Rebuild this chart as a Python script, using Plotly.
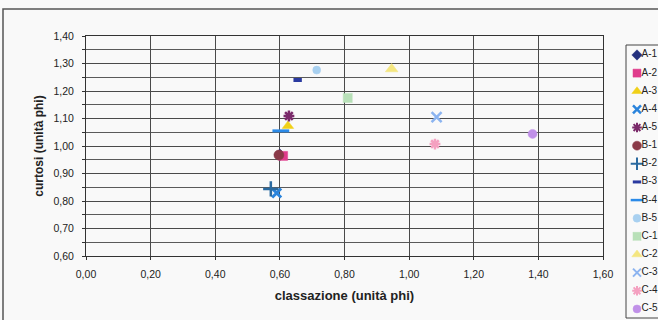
import plotly.graph_objects as go

names = ["A-1", "A-2", "A-3", "A-4", "A-5", "B-1", "B-2", "B-3", "B-4", "B-5",
         "C-1", "C-2", "C-3", "C-4", "C-5"]
x_vals = [0.60, 0.61, 0.625, 0.59, 0.628, 0.597, 0.572, 0.655, 0.603, 0.714,
          0.81, 0.946, 1.085, 1.08, 1.382]
y_vals = [0.968, 0.964, 1.073, 0.829, 1.109, 0.967, 0.844, 1.24, 1.055, 1.276,
          1.175, 1.28, 1.105, 1.007, 1.044]
x_ticks = [0.0, 0.2, 0.4, 0.6, 0.8, 1.0, 1.2, 1.4, 1.6]
y_ticks = [0.6, 0.7, 0.8, 0.9, 1.0, 1.1, 1.2, 1.3, 1.4]

symbols = ["diamond", "square", "triangle-up", "x-thin-open", "asterisk-open", "circle",
           "cross-thin-open", "line-ew-open", "line-ew-open", "circle-x",
           "square-x", "triangle-up", "x-thin-open", "asterisk-open", "circle"]
colors = ["#24307e", "#e03c8c", "#f0d018", "#2a84dc", "#7a2a6a", "#8a3a48",
          "#2a6aa0", "#2a3aa0", "#2a8ae8", "#a8d0f0", "#b8e0b8", "#f4e680",
          "#8cb4f0", "#f4a0c0", "#c090e8"]
sizes = [9, 9, 10, 9, 9, 10, 11, 6, 12, 8, 9, 11, 10, 9, 9]
lw = [0.5, 0.5, 0.5, 3, 2.5, 0.5, 2.5, 4, 3, 0.5, 0.5, 0.5, 2.5, 2.5, 0.5]
leg_sizes = [8, 8, 9, 8, 8, 9, 9, 6, 9, 8, 8, 9, 8, 8, 8]
leg_lw = [0.5, 0.5, 0.5, 2.5, 2, 0.5, 2, 3, 2.5, 0.5, 0.5, 0.5, 2, 2, 0.5]

W, H = 658, 320
fig = go.Figure()
for n, xv, yv, s, c, sz, w in zip(names, x_vals, y_vals, symbols, colors, sizes, lw):
    fig.add_trace(go.Scatter(
        x=[xv], y=[yv], mode="markers", name=n, showlegend=False,
        marker=dict(symbol=s, color=c, size=sz, opacity=1, line=dict(color=c, width=w)),
    ))

# custom legend (narrow, like the original)
idx = list(range(len(names)))
fig.add_trace(go.Scatter(
    x=[11] * len(names), y=idx, mode="markers", xaxis="x2", yaxis="y2",
    showlegend=False, hoverinfo="skip",
    marker=dict(symbol=symbols, color=colors, size=leg_sizes, opacity=1,
                line=dict(color=colors, width=leg_lw)),
))
fig.add_trace(go.Scatter(
    x=[15.5] * len(names), y=idx, mode="text", text=names, xaxis="x2", yaxis="y2",
    textposition="middle right", showlegend=False, hoverinfo="skip",
    textfont=dict(size=10, color="#222"),
))

px_top, px_bot, px_left, px_right = 36, 256, 86, 603
fig.update_layout(
    width=W, height=H,
    margin=dict(l=0, r=0, t=0, b=0, autoexpand=False),
    paper_bgcolor="#f9f9f9",
    plot_bgcolor="#f9f9f9",
    separators=",.",
    font=dict(family="Liberation Sans, Arial", size=10, color="#222"),
    showlegend=False,
    xaxis=dict(
        domain=[px_left / W, px_right / W],
        range=[0, 1.6], tickvals=x_ticks, tickformat=".2f",
        showgrid=True, gridcolor="#4a4a4a", gridwidth=1,
        showline=True, linecolor="#333", mirror=True,
        ticks="outside", ticklen=3, tickcolor="#333",
        zeroline=False, automargin=False, ticklabelstandoff=5,
        tickfont=dict(size=10.5),
        title=dict(text="<b>classazione (unità phi)</b>", font=dict(size=13), standoff=12),
    ),
    yaxis=dict(
        domain=[(H - px_bot) / H, (H - px_top) / H],
        range=[0.6, 1.4], tickvals=y_ticks, tickformat=".2f",
        showgrid=True, gridcolor="#4a4a4a", gridwidth=1,
        minor=dict(dtick=0.05, showgrid=True, gridcolor="#5a5a5a", gridwidth=1,
                   ticks="outside", ticklen=3, tickcolor="#333"),
        showline=True, linecolor="#333", mirror=True,
        ticks="outside", ticklen=3, tickcolor="#333",
        zeroline=False, automargin=False, ticklabelstandoff=6,
        tickfont=dict(size=10.5),
        title=dict(text="<b>curtosi (unità phi)</b>", font=dict(size=12), standoff=7),
    ),
    xaxis2=dict(domain=[626 / W, 1], range=[0, 32], visible=False, fixedrange=True),
    yaxis2=dict(domain=[(H - 318) / H, (H - 45) / H], range=[14.5, -0.55],
                visible=False, fixedrange=True),
    shapes=[
        dict(type="rect", xref="paper", yref="paper",
             x0=3 / W, x1=1.1, y0=-0.1, y1=(H - 9) / H,
             line=dict(color="#555", width=1.5)),
        dict(type="rect", xref="paper", yref="paper",
             x0=626 / W, x1=1.1, y0=(H - 318) / H, y1=(H - 45) / H,
             line=dict(color="#444", width=1)),
    ],
)

fig.write_html("out.html")
